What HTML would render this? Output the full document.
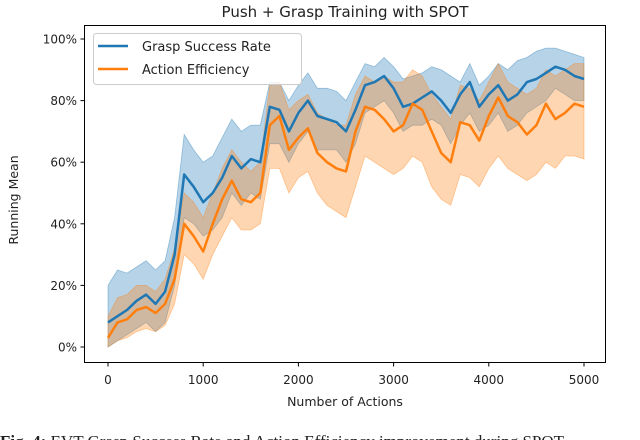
<!DOCTYPE html>
<html><head><meta charset="utf-8"><style>
html,body{margin:0;padding:0;background:#fff;width:640px;height:440px;overflow:hidden}
svg{display:block}
text{font-family:"DejaVu Sans","Liberation Sans",sans-serif;fill:#222}
</style></head><body>
<svg id="chart" width="640" height="440">
<text x="345" y="17" text-anchor="middle" font-size="15">Push + Grasp Training with SPOT</text>
<g id="bands"></g><g id="lines"></g>
<rect x="84.5" y="25.5" width="521" height="337" fill="none" stroke="#000" stroke-width="1"/>
<g id="axes"></g>
<text transform="translate(18,200) rotate(-90)" text-anchor="middle" font-size="12.5">Running Mean</text>
<text x="345" y="406" text-anchor="middle" font-size="12.5">Number of Actions</text>
<g>
<rect x="93.5" y="33.5" width="208" height="51" rx="3" fill="#fff" fill-opacity="0.85" stroke="#ccc"/>
<line x1="98" y1="46" x2="128" y2="46" stroke="#1f77b4" stroke-width="2.5"/>
<text x="142" y="51" font-size="13">Grasp Success Rate</text>
<line x1="98" y1="69" x2="128" y2="69" stroke="#ff7f0e" stroke-width="2.5"/>
<text x="142" y="74" font-size="13">Action Efficiency</text>
</g>
<text x="0" y="447" font-size="17" style="font-family:'Liberation Serif',serif"><tspan font-weight="bold">Fig. 4:</tspan> EVT Grasp Success Rate and Action Efficiency improvement during SPOT</text>
</svg>
<script>
const xs = [0,100,200,300,400,500,600,700,800,900,1000,1100,1200,1300,1400,1500,1600,1700,1800,1900,2000,2100,2200,2300,2400,2500,2600,2700,2800,2900,3000,3100,3200,3300,3400,3500,3600,3700,3800,3900,4000,4100,4200,4300,4400,4500,4600,4700,4800,4900,5000];
const graspMean = [8,10,12,15,17,14,18,30,56,52,47,50,55,62,58,61,60,78,77,70,76,80,75,74,73,70,77,85,86,88,84,78,79,81,83,80,76,82,86,78,82,85,80,82,86,87,89,91,90,88,87];
const graspHigh = [20,25,24,26,28,25,28,42,69,64,60,62,68,74,70,72,72,86,86,80,85,89,84,84,83,80,86,92,91,94,91,87,88,89,91,90,88,86,92,85,88,92,90,93,94,96,97,97,96,95,94];
const graspLow = [0,2,4,6,8,5,8,20,42,40,36,38,42,50,46,50,48,66,66,60,66,70,64,64,64,60,66,76,78,80,76,70,72,72,74,72,66,72,76,70,72,76,70,72,76,78,80,84,82,80,80];
const actMean = [3,8,9,12,13,11,14,22,40,36,31,40,48,54,48,47,50,72,75,64,68,71,63,60,58,57,70,78,77,74,70,72,79,77,70,63,60,73,72,67,75,81,75,73,69,72,79,74,76,79,78];
const actHigh = [10,16,17,20,20,18,22,32,50,47,42,50,58,64,60,57,60,85,86,77,80,82,76,74,72,72,82,88,86,88,86,86,90,88,82,78,74,85,84,80,86,92,86,84,82,84,90,88,90,92,92];
const actLow = [0,2,3,5,6,5,7,14,30,27,22,30,36,42,38,38,40,58,58,50,55,57,50,46,44,42,52,62,60,58,56,58,62,60,52,48,46,56,55,52,58,62,58,56,54,56,60,58,62,62,61];
const xTicks = [0,1000,2000,3000,4000,5000];
const yTicks = [0,20,40,60,80,100];
const yTickLabels = ["0%","20%","40%","60%","80%","100%"];

const NS="http://www.w3.org/2000/svg";
const X = v => 108 + v*(584-108)/5000;
const Y = v => 347 - v*(347-39)/100;
function mk(tag, parent, attrs){const e=document.createElementNS(NS,tag);for(const k in attrs)e.setAttribute(k,attrs[k]);document.getElementById(parent).appendChild(e);return e;}
function band(hi, lo, color, name){
  let d = xs.map((x,i)=>(i?'L':'M')+X(x).toFixed(1)+','+Y(hi[i]).toFixed(1)).join('');
  for(let i=xs.length-1;i>=0;i--) d+='L'+X(xs[i]).toFixed(1)+','+Y(lo[i]).toFixed(1);
  const p=mk('path','bands',{d:d+'Z',fill:color,'fill-opacity':0.32,stroke:color,'stroke-opacity':0.4,'stroke-width':0.8});
  
  
}
function line(vals, color, name){
  const d = xs.map((x,i)=>(i?'L':'M')+X(x).toFixed(1)+','+Y(vals[i]).toFixed(1)).join('');
  const p=mk('path','lines',{d:d,fill:'none',stroke:color,'stroke-width':2.5,'stroke-linejoin':'round'});
  
  
}
band(graspHigh, graspLow, '#1f77b4', 'grasp-confidence-band');
band(actHigh, actLow, '#ff7f0e', 'action-confidence-band');
line(graspMean, '#1f77b4', 'grasp-success-line');
line(actMean, '#ff7f0e', 'action-efficiency-line');
xTicks.forEach(t=>{
  const l=mk('line','axes',{x1:X(t),x2:X(t),y1:362.5,y2:366.5,stroke:'#000'});
  
  
  const tx=mk('text','axes',{x:X(t),y:384,'text-anchor':'middle','font-size':12});
  tx.textContent=t;
  
  
});
yTicks.forEach((t,i)=>{
  const l=mk('line','axes',{x1:80.5,x2:84.5,y1:Y(t),y2:Y(t),stroke:'#000'});
  
  
  const tx=mk('text','axes',{x:77,y:Y(t)+4.5,'text-anchor':'end','font-size':12});
  tx.textContent=yTickLabels[i];
  
  
});
</script>
</body></html>
